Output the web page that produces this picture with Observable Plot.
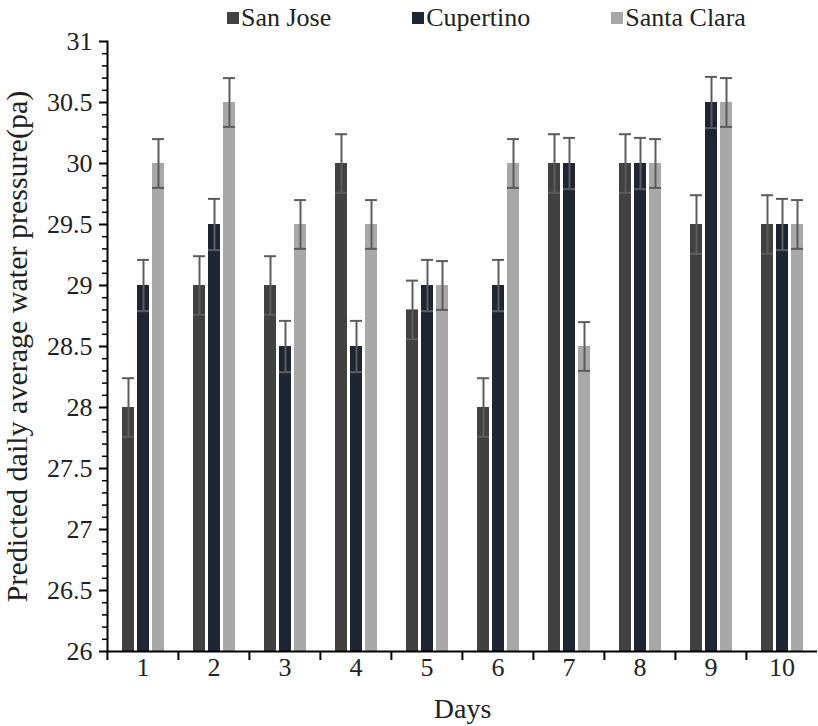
<!DOCTYPE html>
<html><head><meta charset="utf-8">
<script src="https://cdn.jsdelivr.net/npm/d3@7"></script>
<script src="https://cdn.jsdelivr.net/npm/@observablehq/plot@0.6"></script>
<style>
body{margin:0;background:#fff;font-family:'Liberation Serif','Times New Roman','DejaVu Serif',serif;}
#legend{width:818px;height:26px;box-sizing:border-box;padding:10px 0 0 227px;display:flex;align-items:center;font-size:26px;color:#222;white-space:nowrap;overflow:visible;}
.item{display:flex;align-items:center;margin-right:81px;flex-shrink:0;white-space:nowrap;}
.sw{width:12px;height:12px;margin-right:2px;flex-shrink:0;}
</style></head><body>
<div id="legend"></div><div id="chart"></div>
<script>
const days = ["1","2","3","4","5","6","7","8","9","10"];
const seriesNames = ["San Jose","Cupertino","Santa Clara"];
const sanJose    = [28, 29, 29, 30, 28.8, 28, 30, 30, 29.5, 29.5];
const cupertino  = [29, 29.5, 28.5, 28.5, 29, 29, 30, 30, 30.5, 29.5];
const santaClara = [30, 30.5, 29.5, 29.5, 29, 30, 28.5, 30, 30.5, 29.5];
const errSanJose    = [0.24,0.24,0.24,0.24,0.24,0.24,0.24,0.24,0.24,0.24];
const errCupertino  = [0.21,0.21,0.21,0.21,0.21,0.21,0.21,0.21,0.21,0.21];
const errSantaClara = [0.2,0.2,0.2,0.2,0.2,0.2,0.2,0.2,0.2,0.2];
const colors = ["#414141","#1f2633","#a8a8a8"];
const yMajorTicks = [26,26.5,27,27.5,28,28.5,29,29.5,30,30.5,31];
const yDomain = [26, 31];
const yLabel = "Predicted daily average water pressure(pa)";
const xLabel = "Days";

const valuesBySeries = [sanJose, cupertino, santaClara];
const errBySeries = [errSanJose, errCupertino, errSantaClara];
const rows = [];
days.forEach((day, i) => seriesNames.forEach((s, j) => rows.push({day, series: s, value: valuesBySeries[j][i], err: errBySeries[j][i]})));

const yMinorTicks = d3.range(260, 311).map(v => v / 10).filter(v => !yMajorTicks.includes(v));

// legend
const legend = document.getElementById("legend");
seriesNames.forEach((s, j) => {
  const it = document.createElement("div"); it.className = "item";
  const sw = document.createElement("span"); sw.className = "sw"; sw.style.background = colors[j];
  const tx = document.createElement("span"); tx.textContent = s;
  it.append(sw, tx); legend.append(it);
});

const W = 818, ML = 106, MR = 0;
const halfBand = (W - ML - MR) / days.length / 2;
const errColor = "#5c5c5c";
const FONT = "'Liberation Serif', 'Times New Roman', 'DejaVu Serif', serif";

const chart = Plot.plot({
  width: W, height: 700,
  marginTop: 15, marginBottom: 75, marginLeft: ML, marginRight: MR,
  style: {fontFamily: FONT, fontSize: "26px", color: "#222", background: "white", overflow: "visible"},
  fx: {domain: days, padding: 0},
  x: {domain: seriesNames, paddingInner: 0.2, paddingOuter: 0.83, axis: null},
  y: {domain: yDomain},
  color: {domain: seriesNames, range: colors},
  marks: [
    Plot.barY(rows, {fx: "day", x: "series", y1: yDomain[0], y2: "value", fill: "series"}),
    Plot.ruleX(rows, {fx: "day", x: "series", y1: d => d.value - d.err, y2: d => d.value + d.err, stroke: errColor, strokeWidth: 2}),
    Plot.tickY(rows, {fx: "day", x: "series", y: d => d.value + d.err, stroke: errColor, strokeWidth: 2}),
    Plot.tickY(rows, {fx: "day", x: "series", y: d => d.value - d.err, stroke: errColor, strokeWidth: 2}),
    Plot.ruleY([yDomain[0]], {stroke: "#000", strokeWidth: 2}),
    Plot.frame({anchor: "left", facetAnchor: "left", stroke: "#000", strokeWidth: 2}),
    Plot.axisY({ticks: yMinorTicks, tickSize: 5, text: null, label: null, stroke: "#000", strokeWidth: 1.5}),
    Plot.axisY({ticks: yMajorTicks, tickFormat: d => String(d), tickSize: 8, tickPadding: 7, stroke: "#000", strokeWidth: 2, label: null}),
    Plot.axisY({ticks: yMajorTicks, tickSize: 0, tickFormat: () => "", label: yLabel, labelArrow: "none", labelAnchor: "center", labelOffset: 102, fontSize: 30}),
    Plot.axisFx({anchor: "bottom", tickSize: 0, tickPadding: 6, label: null}),
    Plot.axisFx({anchor: "bottom", tickSize: 0, tickFormat: () => "", label: xLabel, labelArrow: "none", labelAnchor: "center", labelOffset: 66, fontSize: 28}),
    Plot.axisFx({anchor: "bottom", tickSize: 9, text: null, label: null, dx: -halfBand, stroke: "#000", strokeWidth: 2})
  ]
});
document.getElementById("chart").append(chart);
</script>
</body></html>
